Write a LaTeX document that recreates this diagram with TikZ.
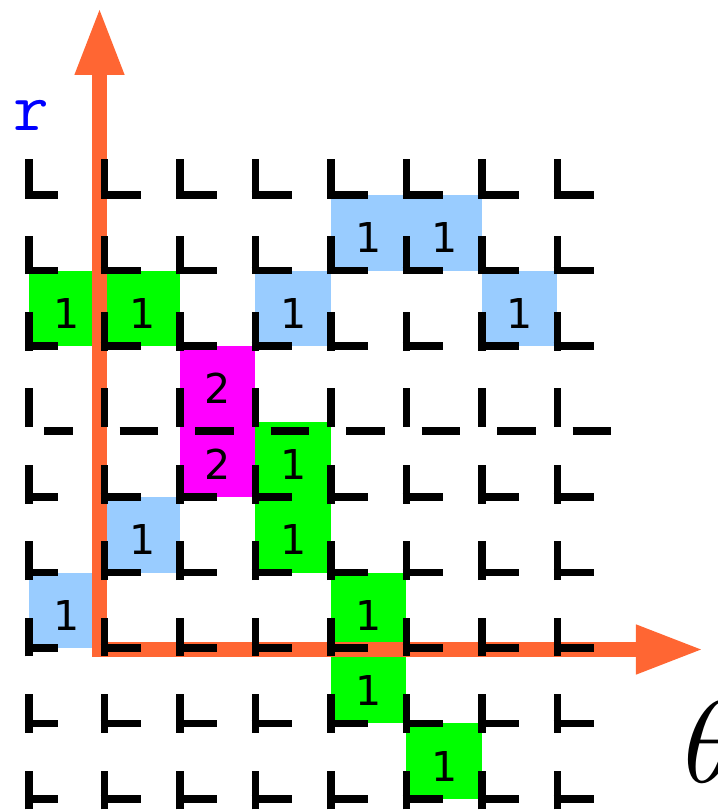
\documentclass[tikz,border=0pt]{standalone}
\usepackage{fontspec}
\newfontfamily\cellfont{DejaVu Sans}
\usetikzlibrary{arrows.meta}
\definecolor{hitblue}{RGB}{153,204,255}
\definecolor{hitgreen}{RGB}{0,255,0}
\definecolor{hitpink}{RGB}{255,0,255}
\definecolor{axisorange}{RGB}{255,102,51}
\tikzset{
  >={Triangle[length=9mm,width=6mm]},
  cell/.style={fill=#1,minimum size=1cm,inner sep=0pt,text depth=0pt,text height=15.1pt,
    font=\cellfont\fontsize{15.5}{15.5}\selectfont},
  cell/.default=hitblue,
  axis/.style={<->,draw=axisorange,line width=2mm,line join=miter},
  tick/.style={draw=black,line width=1mm},
}

\begin{document}
\begin{tikzpicture}
  \useasboundingbox (-0.384,-0.159) rectangle (9.126,10.583);
  % accumulator cells
  \node[cell] (b47) at (4.5,7.5) {1};
  \node[cell] (b57) at (5.5,7.5) {1};
  \node[cell=hitgreen] (g06) at (0.5,6.5) {1};
  \node[cell=hitgreen] (g16) at (1.5,6.5) {1};
  \node[cell] (b36) at (3.5,6.5) {1};
  \node[cell] (b66) at (6.5,6.5) {1};
  \node[cell=hitpink] (p25) at (2.5,5.5) {2};
  \node[cell=hitpink] (p24) at (2.5,4.5) {2};
  \node[cell=hitgreen] (g34) at (3.5,4.5) {1};
  \node[cell] (b13) at (1.5,3.5) {1};
  \node[cell=hitgreen] (g33) at (3.5,3.5) {1};
  \node[cell] (b02) at (0.5,2.5) {1};
  \node[cell=hitgreen] (g42) at (4.5,2.5) {1};
  \node[cell=hitgreen] (g41) at (4.5,1.5) {1};
  \node[cell=hitgreen] (g50) at (5.5,0.5) {1};
  % axes
  \coordinate (origin) at (0.934,1.98);
  \coordinate (rtip) at (0.934,10.49);
  \coordinate (ttip) at (8.94,1.98);
  \draw[axis] (rtip) -- (origin) -- (ttip);
  \node[text=blue,font=\ttfamily\fontsize{26}{26}\selectfont] (rlabel) at (0.03,9.06) {r};
  \node[anchor=base west,inner sep=0pt,scale=4.4] (thetalabel) at (8.64,0.225) {$\theta$};
  % corner marks
  \foreach \j in {0,1,2,3,4,6,7,8}{
    \pgfmathsetmacro\drop{(10.5-\j)/75.5}
    \foreach \i in {0,...,7}{
      \pgfmathsetmacro\cut{\i==0 ? 0.11 : 0}
      \draw[tick] (\i,\j-\drop) -- ++(0,0.51);
      \draw[tick] (\i-0.05,\j) -- (\i+0.49-\cut,\j);
    }
  }
  \foreach \i in {0,...,7}{
    \pgfmathsetmacro\cut{\i==0 ? 0.13 : 0}
    \draw[tick] (\i,4.93) -- ++(0,0.51);
    \draw[tick] (\i+0.2,4.875) -- (\i+0.71-\cut,4.875);
  }
\end{tikzpicture}
\end{document}
